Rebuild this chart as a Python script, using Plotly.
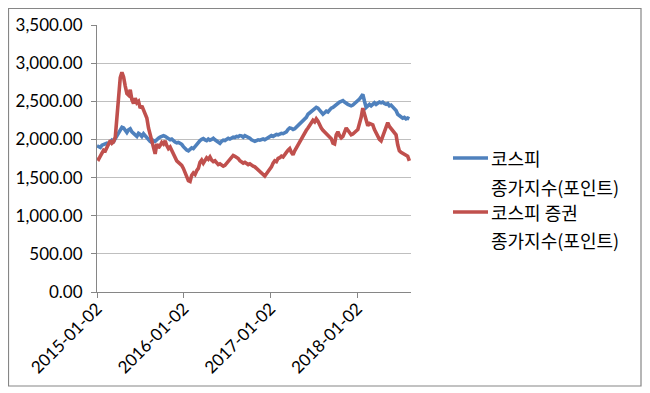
import pandas as pd
import plotly.graph_objects as go

# Weekly dates from 2015-01-02
dates = pd.date_range("2015-01-02", periods=189, freq="7D")

kospi = [
    1916, 1900, 1895, 1925, 1935, 1940, 1950, 1945, 1965, 1990,
    1975, 2010, 2040, 2075, 2120, 2160, 2150, 2110, 2090, 2125,
    2140, 2100, 2070, 2060, 2040, 2080, 2065, 2040, 2075, 2050,
    2010, 1990, 1975, 1960, 1985, 1975, 2000, 2015, 2030, 2035,
    2050, 2040, 2025, 2010, 1995, 2005, 1980, 1965, 1955, 1960,
    1950, 1935, 1905, 1880, 1860, 1850, 1870, 1890, 1880, 1910,
    1930, 1955, 1985, 2000, 2010, 1995, 1985, 2005, 1990, 2000,
    2015, 1995, 1975, 1960, 1950, 1975, 1990, 1985, 2000, 2015,
    2005, 2020, 2030, 2025, 2040, 2035, 2050, 2045, 2030, 2050,
    2040, 2025, 2015, 1995, 1985, 1975, 1985, 1995, 1990, 2000,
    2005, 1995, 2010, 2030, 2045, 2050, 2040, 2055, 2065, 2060,
    2070, 2080, 2075, 2090, 2100, 2130, 2150, 2145, 2130, 2140,
    2160, 2190, 2210, 2225, 2250, 2270, 2290, 2330, 2350, 2370,
    2380, 2400, 2420, 2410, 2380, 2350, 2330, 2350, 2370, 2360,
    2390, 2410, 2420, 2440, 2460, 2470, 2490, 2500, 2510, 2490,
    2470, 2460, 2450, 2440, 2450, 2470, 2490, 2500, 2530, 2560,
    2590, 2500, 2420, 2440, 2460, 2440, 2470, 2480, 2460, 2470,
    2490, 2480, 2490, 2470, 2460, 2470, 2440, 2450, 2430, 2410,
    2380, 2330, 2310, 2290, 2280, 2290, 2270, 2280, 2270,
]

securities = [
    1758, 1740, 1780, 1830, 1860, 1850, 1900, 1930, 1985, 1950,
    1970, 2030, 2280, 2550, 2810, 2880, 2820, 2700, 2600, 2580,
    2650, 2520, 2470, 2540, 2480, 2500, 2410, 2440, 2390, 2340,
    2280, 2150, 2060, 1960, 1870, 1810, 1940, 1890, 1920, 1960,
    1940, 1980, 1920, 1880, 1900, 1850, 1800, 1770, 1720, 1700,
    1680, 1660, 1620, 1560, 1500, 1460, 1450, 1530, 1560, 1540,
    1590, 1620, 1700, 1730, 1690, 1720, 1760, 1740, 1770, 1730,
    1710, 1720, 1700, 1670, 1680, 1660, 1650, 1660, 1690, 1710,
    1730, 1760, 1790, 1780, 1770, 1750, 1720, 1700, 1690, 1700,
    1680, 1670, 1680, 1660, 1650, 1640, 1620, 1600, 1580, 1560,
    1540, 1520, 1550, 1580, 1600, 1640, 1690, 1720, 1710, 1750,
    1760, 1780, 1770, 1810, 1830, 1860, 1880, 1830, 1800, 1850,
    1890, 1940, 1980, 2020, 2050, 2080, 2120, 2150, 2180, 2220,
    2250, 2230, 2270, 2240, 2190, 2150, 2120, 2100, 2080, 2060,
    2030, 2010, 1950, 1940, 2060, 2100, 2050, 2020, 2040, 2100,
    2150, 2120, 2080, 2060, 2070, 2100, 2110, 2130, 2200, 2290,
    2410, 2330, 2220, 2180, 2210, 2200, 2190, 2130, 2080, 2040,
    2000, 1980, 2040, 2090, 2180, 2220, 2170, 2140, 2120, 2080,
    2060, 1930, 1850, 1830, 1820, 1810, 1800, 1780, 1720,
]

series_names = ["코스피 종가지수(포인트)", "코스피 증권 종가지수(포인트)"]
legend_lines = [["코스피", "종가지수(포인트)"], ["코스피 증권", "종가지수(포인트)"]]
colors = ["#4F81BD", "#C0504D"]
x_ticks = ["2015-01-02", "2016-01-02", "2017-01-02", "2018-01-02"]

font_family = "Lato, 'Noto Sans CJK KR', sans-serif"
kr_family = "'Noto Sans CJK KR', sans-serif"

W, H = 642, 385
L, R, T, B = 89, 239, 17, 101
PW, PH = W - L - R, H - T - B


def px_x(fx):
    return (fx - L) / PW


def px_y(fy):
    return (H - B - fy) / PH


fig = go.Figure()
for name, vals, col in zip(series_names, [kospi, securities], colors):
    fig.add_trace(go.Scatter(
        x=dates, y=vals, mode="lines", name=name,
        line=dict(color=col, width=3.6), showlegend=False,
    ))

# Legend drawn as layout decorations (sample line + two text rows per series)
shapes = [dict(
    type="rect", xref="paper", yref="paper",
    x0=px_x(0.5), x1=px_x(633), y0=px_y(378), y1=px_y(0.5),
    line=dict(color="#868686", width=1.2), fillcolor="rgba(0,0,0,0)",
    layer="below",
)]
annotations = []
legend_rows = [(150, 179), (204, 232)]
for (r1, r2), col, (t1, t2) in zip(legend_rows, colors, legend_lines):
    shapes.append(dict(
        type="line", xref="paper", yref="paper",
        x0=px_x(445), x1=px_x(480), y0=px_y(r1), y1=px_y(r1),
        line=dict(color=col, width=3.6),
    ))
    for ry, txt in ((r1, t1), (r2, t2)):
        annotations.append(dict(
            xref="paper", yref="paper", x=px_x(481), y=px_y(ry),
            xanchor="left", yanchor="middle", text=txt, showarrow=False,
            font=dict(family=kr_family, size=18, color="#000000"),
        ))

fig.update_layout(
    width=W, height=H,
    margin=dict(l=L, r=R, t=T, b=B, autoexpand=False),
    paper_bgcolor="white", plot_bgcolor="white",
    font=dict(family=font_family, size=16, color="#000000"),
    showlegend=False,
    xaxis=dict(
        type="date",
        range=["2015-01-02", "2018-08-17"],
        tickvals=x_ticks, ticktext=x_ticks,
        tickangle=-45,
        showgrid=False, zeroline=False,
        showline=True, linecolor="#868686", linewidth=1,
        ticks="outside", ticklen=5, tickcolor="#868686",
        ticklabelstandoff=-6,
        tickfont=dict(family=font_family, size=17),
    ),
    yaxis=dict(
        range=[0, 3500], dtick=500, tickformat=",.2f",
        showgrid=True, gridcolor="#BFBFBF", gridwidth=1,
        zeroline=False,
        showline=True, linecolor="#868686", linewidth=1,
        ticks="outside", ticklen=5, tickcolor="#868686",
        ticklabelstandoff=5,
        tickfont=dict(family=font_family, size=17),
    ),
    shapes=shapes,
    annotations=annotations,
)

fig.write_html("out.html")
